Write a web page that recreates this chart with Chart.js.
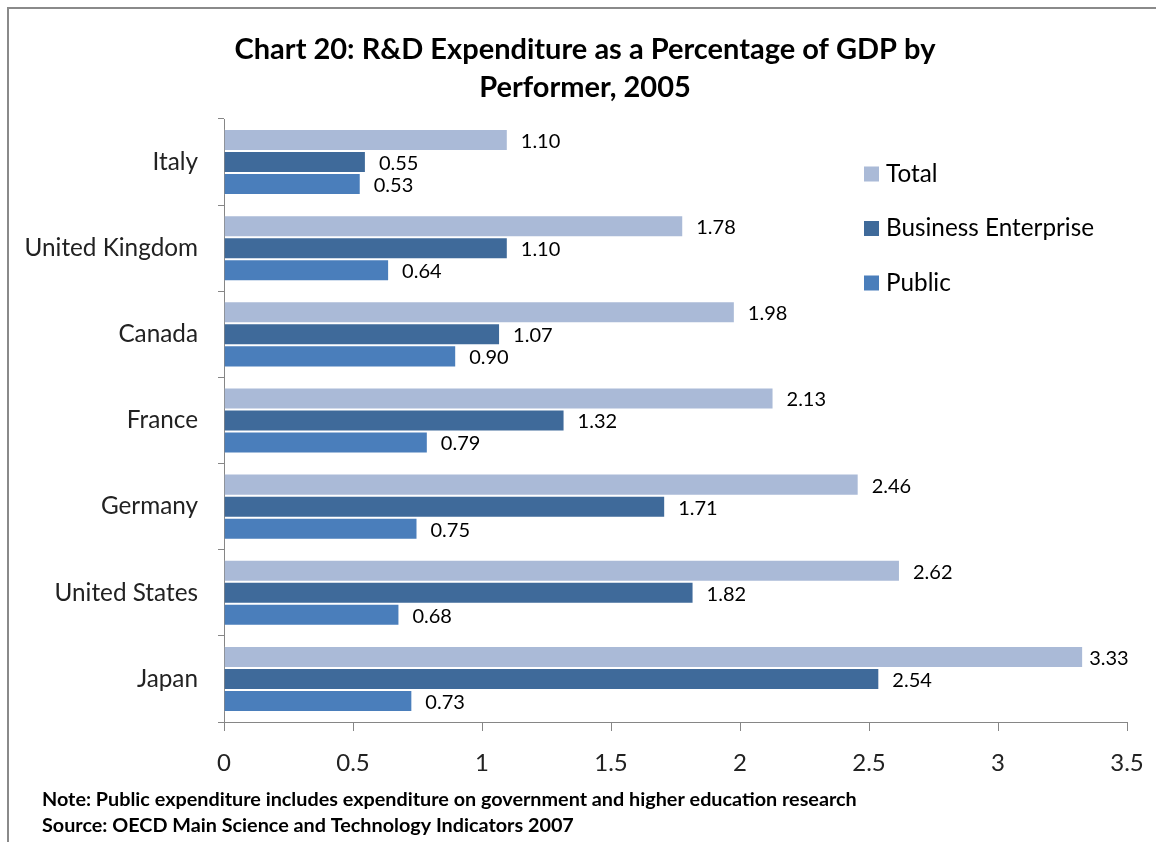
<!DOCTYPE html>
<html>
<head>
<meta charset="utf-8">
<script src="https://cdn.jsdelivr.net/npm/chart.js@4.4.1/dist/chart.umd.min.js"></script>
<style>
  html, body { margin: 0; padding: 0; background: #fff; }
  #wrap { width: 1156px; height: 842px; }
</style>
</head>
<body>
<div id="wrap"><canvas id="chart" width="1156" height="842"></canvas></div>
<script>
// R&D expenditure as % of GDP, by performer, 2005
const categories = ['Italy', 'United Kingdom', 'Canada', 'France', 'Germany', 'United States', 'Japan'];
const seriesNames = ['Total', 'Business Enterprise', 'Public'];
const totalValues = [1.10, 1.78, 1.98, 2.13, 2.46, 2.62, 3.33];
const businessValues = [0.55, 1.10, 1.07, 1.32, 1.71, 1.82, 2.54];
const publicValues = [0.53, 0.64, 0.90, 0.79, 0.75, 0.68, 0.73];
const xTickValues = [0, 0.5, 1, 1.5, 2, 2.5, 3, 3.5];

const titleLines = ['Chart 20: R&D Expenditure as a Percentage of GDP by', 'Performer, 2005'];
const noteLines = [
  'Note: Public expenditure includes expenditure on government and higher education research',
  'Source: OECD Main Science and Technology Indicators 2007'
];

const colors = ['#AABAD7', '#3F6A9A', '#4A7EBB'];
const FONT = 'Lato, "Open Sans", sans-serif';

// Frame, title and footnote
const decorPlugin = {
  id: 'decor',
  beforeDraw(chart) {
    const ctx = chart.ctx;
    ctx.save();
    ctx.fillStyle = '#fff';
    ctx.fillRect(0, 0, chart.width, chart.height);
    ctx.strokeStyle = '#8a8a8a';
    ctx.lineWidth = 2;
    ctx.beginPath();
    ctx.moveTo(8, chart.height + 5);
    ctx.lineTo(8, 8);
    ctx.lineTo(chart.width + 5, 8);
    ctx.stroke();
    ctx.restore();
  },
  afterDraw(chart) {
    const ctx = chart.ctx;
    ctx.save();
    ctx.fillStyle = '#000';
    ctx.textBaseline = 'middle';
    ctx.textAlign = 'center';
    ctx.font = 'bold 29px ' + FONT;
    ctx.fillText(titleLines[0], 585, 50);
    ctx.fillText(titleLines[1], 585, 88);
    ctx.textAlign = 'left';
    ctx.font = 'bold 19.8px ' + FONT;
    ctx.fillText(noteLines[0], 42, 800);
    ctx.fillText(noteLines[1], 42, 826);
    ctx.restore();
  }
};

// Legend drawn inside the plot area, upper right
const legendPlugin = {
  id: 'sideLegend',
  afterDraw(chart) {
    const ctx = chart.ctx;
    ctx.save();
    ctx.font = '24.3px ' + FONT;
    ctx.textBaseline = 'middle';
    ctx.textAlign = 'left';
    chart.data.datasets.forEach((ds, i) => {
      const cy = 174 + i * 54.5;
      ctx.fillStyle = ds.backgroundColor;
      ctx.fillRect(864, cy - 7.5, 15, 15);
      ctx.fillStyle = '#000';
      ctx.fillText(ds.label, 886, cy);
    });
    ctx.restore();
  }
};

// Value labels at the end of each bar, pulled in near the plot's right edge
const valueLabelPlugin = {
  id: 'valueLabels',
  afterDatasetsDraw(chart) {
    const ctx = chart.ctx;
    const right = chart.chartArea.right;
    ctx.save();
    ctx.font = '20px ' + FONT;
    ctx.fillStyle = '#000';
    ctx.textBaseline = 'middle';
    ctx.textAlign = 'left';
    chart.data.datasets.forEach((ds, i) => {
      const meta = chart.getDatasetMeta(i);
      meta.data.forEach((bar, j) => {
        const text = ds.data[j].toFixed(2);
        const w = ctx.measureText(text).width;
        const x = Math.max(bar.x + 6, Math.min(bar.x + 13, right - w - 2));
        ctx.fillText(text, x, bar.y + 1.5);
      });
    });
    ctx.restore();
  }
};

new Chart(document.getElementById('chart'), {
  type: 'bar',
  data: {
    labels: categories,
    datasets: [
      { label: seriesNames[0], data: totalValues, backgroundColor: colors[0] },
      { label: seriesNames[1], data: businessValues, backgroundColor: colors[1] },
      { label: seriesNames[2], data: publicValues, backgroundColor: colors[2] }
    ].map(d => Object.assign(d, {
      borderColor: 'rgba(255,255,255,0.35)',
      borderWidth: 1,
      categoryPercentage: 0.767,
      barPercentage: 1.0
    }))
  },
  options: {
    indexAxis: 'y',
    responsive: false,
    animation: false,
    events: [],
    layout: { padding: { top: 119, right: 29, bottom: 0, left: 0 } },
    plugins: {
      legend: { display: false },
      title: { display: false },
      tooltip: { enabled: false }
    },
    scales: {
      x: {
        min: 0,
        max: 3.5,
        afterBuildTicks(scale) { scale.ticks = xTickValues.map(v => ({ value: v })); },
        afterFit(scale) {
          scale.height = 120;
          scale.paddingLeft = 0;
          scale.paddingRight = 0;
        },
        ticks: {
          font: { family: FONT, size: 24 },
          color: '#222',
          padding: 18,
          callback: v => String(v),
          maxRotation: 0
        },
        grid: { drawOnChartArea: false, drawTicks: true, tickLength: 9, color: '#868686' },
        border: { color: '#868686', width: 1 }
      },
      y: {
        afterFit(scale) { scale.width = 224; },
        ticks: {
          font: { family: FONT, size: 24.3 },
          color: '#222',
          padding: 20
        },
        grid: { drawOnChartArea: false, drawTicks: true, tickLength: 6, color: '#868686', offset: true },
        border: { color: '#868686', width: 1 }
      }
    }
  },
  plugins: [decorPlugin, valueLabelPlugin, legendPlugin]
});
</script>
</body>
</html>
